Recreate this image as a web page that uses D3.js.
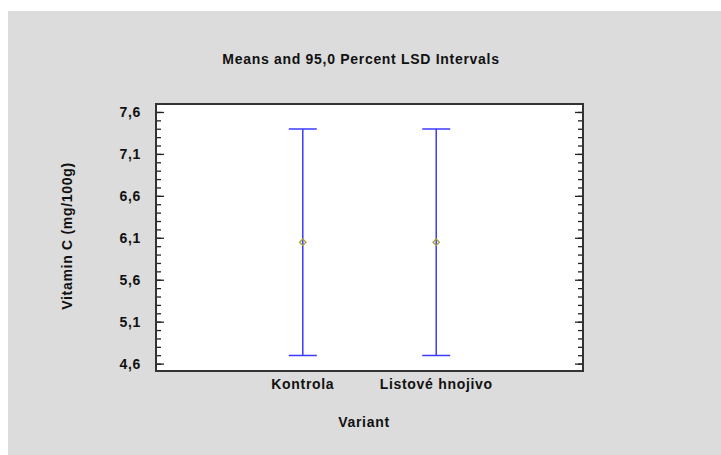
<!DOCTYPE html>
<html>
<head>
<meta charset="utf-8">
<script src="https://cdn.jsdelivr.net/npm/d3@7/dist/d3.min.js"></script>
<style>
  html, body { margin: 0; padding: 0; background: #ffffff; }
  svg { display: block; }
  text { font-family: "Liberation Sans", Arial, sans-serif; font-weight: bold; fill: #111; letter-spacing: 0.7px; }
</style>
</head>
<body>
<script>
// Group means with 95% LSD interval limits
const categories = ["Kontrola", "Listové hnojivo"];
const means = [6.047, 6.047];
const lower = [4.697, 4.697];
const upper = [7.397, 7.397];
const yTicks = [4.6, 5.1, 5.6, 6.1, 6.6, 7.1, 7.6];
const titleText = "Means and 95,0 Percent LSD Intervals";
const xTitle = "Variant";
const yTitle = "Vitamin C (mg/100g)";

const W = 721, H = 455;
const plot = { left: 156, right: 583, top: 104, bottom: 371 };
const FS = 14;

const svg = d3.select("body").append("svg").attr("width", W).attr("height", H);

// grey panel
svg.append("rect").attr("x", 8).attr("y", 11).attr("width", W - 8).attr("height", H - 11)
  .attr("fill", "#dcdcdc");

// plotting area
svg.append("rect").attr("x", plot.left).attr("y", plot.top)
  .attr("width", plot.right - plot.left).attr("height", plot.bottom - plot.top)
  .attr("fill", "#ffffff");

const y = d3.scaleLinear().domain([4.512, 7.695]).range([plot.bottom, plot.top]);
const x = d3.scaleLinear().domain([-0.1, 3.1]).range([plot.left, plot.right]);
const xPos = i => x(i + 1);

// minor ticks every 0.1
const minor = d3.range(46, 77).map(v => v / 10);
const fmt = v => d3.format(".1f")(v).replace(".", ",");

const left = svg.append("g").attr("transform", `translate(${plot.left},0)`)
  .call(d3.axisRight(y).tickValues(minor).tickSize(5).tickFormat(""));
const leftMajor = svg.append("g").attr("transform", `translate(${plot.left},0)`)
  .call(d3.axisRight(y).tickValues(yTicks).tickSize(8).tickFormat(""));
const right = svg.append("g").attr("transform", `translate(${plot.right},0)`)
  .call(d3.axisLeft(y).tickValues(minor).tickSize(5).tickFormat(""));
const rightMajor = svg.append("g").attr("transform", `translate(${plot.right},0)`)
  .call(d3.axisLeft(y).tickValues(yTicks).tickSize(8).tickFormat(""));
[left, leftMajor, right, rightMajor].forEach(g => {
  g.select(".domain").remove();
  g.selectAll("line").attr("stroke", "#222").attr("stroke-width", 1.3);
});

// y tick labels
svg.append("g").selectAll("text").data(yTicks).join("text")
  .attr("x", 141).attr("y", d => y(d)).attr("dy", "0.36em")
  .attr("text-anchor", "end").attr("font-size", FS).text(fmt);

// frame
svg.append("rect").attr("x", plot.left).attr("y", plot.top)
  .attr("width", plot.right - plot.left).attr("height", plot.bottom - plot.top)
  .attr("fill", "none").attr("stroke", "#333").attr("stroke-width", 2);

// intervals
const bars = svg.append("g").attr("stroke", "#3a3aff").attr("stroke-width", 1.5);
categories.forEach((c, i) => {
  const cx = xPos(i);
  bars.append("line").attr("x1", cx).attr("x2", cx).attr("y1", y(lower[i])).attr("y2", y(upper[i]));
  bars.append("line").attr("x1", cx - 14).attr("x2", cx + 14).attr("y1", y(upper[i])).attr("y2", y(upper[i]));
  bars.append("line").attr("x1", cx - 14).attr("x2", cx + 14).attr("y1", y(lower[i])).attr("y2", y(lower[i]));
});

// mean markers
svg.append("g").selectAll("path").data(means).join("path")
  .attr("d", (m, i) => {
    const cx = xPos(i), cy = y(m), r = 3.2;
    return `M${cx},${cy - r}L${cx + r},${cy}L${cx},${cy + r}L${cx - r},${cy}Z`;
  })
  .attr("fill", "none").attr("stroke", "#a8a030").attr("stroke-width", 1.3);

// category labels
svg.append("g").selectAll("text").data(categories).join("text")
  .attr("x", (d, i) => xPos(i)).attr("y", 389)
  .attr("text-anchor", "middle").attr("font-size", FS).text(d => d);

// titles
svg.append("text").attr("x", 361).attr("y", 63.5).attr("text-anchor", "middle")
  .attr("font-size", FS).text(titleText);
svg.append("text").attr("x", 364).attr("y", 427).attr("text-anchor", "middle")
  .attr("font-size", FS).text(xTitle);
svg.append("text").attr("transform", "translate(72,236) rotate(-90)")
  .attr("text-anchor", "middle").attr("font-size", FS).text(yTitle);
</script>
</body>
</html>
